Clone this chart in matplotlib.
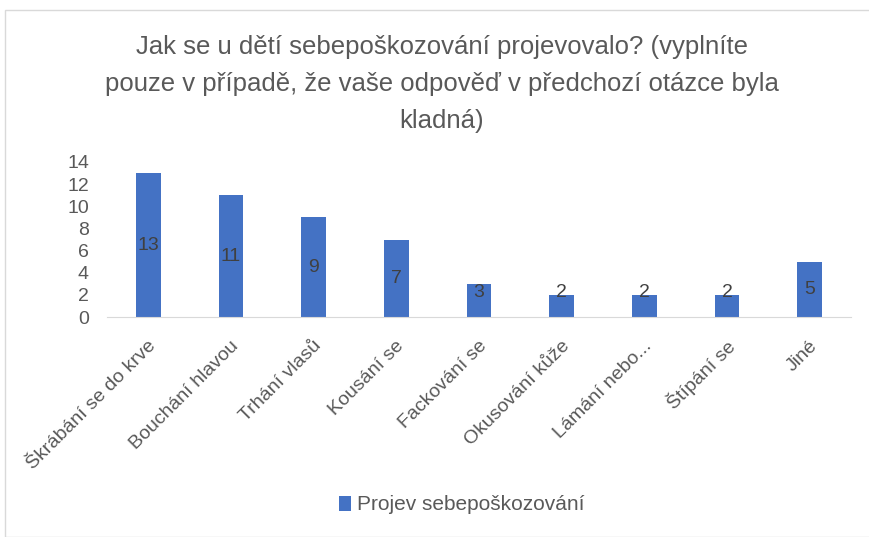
import matplotlib.pyplot as plt
from matplotlib.patches import Rectangle
from matplotlib.transforms import ScaledTranslation

# data z grafu
kategorie = ["Škrábání se do krve", "Bouchání hlavou", "Trhání vlasů", "Kousání se",
             "Fackování se", "Okusování kůže", "Lámání nebo...", "Štípání se", "Jiné"]
hodnoty = [13, 11, 9, 7, 3, 2, 2, 2, 5]
y_ticks = [0, 2, 4, 6, 8, 10, 12, 14]

nazev = ("Jak se u dětí sebepoškozování projevovalo? (vyplníte\n"
         "pouze v případě, že vaše odpověď v předchozí otázce byla\n"
         "kladná)")
legenda = "Projev sebepoškozování"

plt.rcParams['font.family'] = ['Liberation Sans', 'DejaVu Sans']
seda = "#595959"

fig = plt.figure(figsize=(8.7, 5.37), dpi=100)
W, H = 870, 537
# ramecek grafu
fig.patches.append(Rectangle((5 / W, 0), 1, 1 - 10 / H, transform=fig.transFigure,
                             fill=False, edgecolor="#d9d9d9", linewidth=1))

ax = fig.add_axes([107 / W, 1 - 317 / H, (851 - 107) / W, (317 - 162) / H])
x = range(len(kategorie))
ax.bar(x, hodnoty, width=0.3, color="#4472C4", label=legenda)
# popisky hodnot (u nizkych sloupcu posunute nahoru jako v Excelu)
for i, v in zip(x, hodnoty):
    ax.text(i, max(v / 2, 2.2), str(v), ha="center", va="center",
            color="#404040", fontsize=14)

ax.set_xlim(-0.5, len(kategorie) - 0.5)
ax.set_ylim(0, 14)
ax.set_yticks(y_ticks)
ax.set_xticks(list(x))
ax.set_xticklabels(kategorie, rotation=45, ha="right", va="center",
                   rotation_mode="anchor")
ax.tick_params(axis="both", length=0, colors=seda, labelsize=14)
ax.tick_params(axis="y", labelsize=14, pad=13)
ax.tick_params(axis="x", pad=19)
posun = ScaledTranslation(5 / 100, 0, fig.dpi_scale_trans)
for lbl in ax.get_xticklabels():
    lbl.set_transform(lbl.get_transform() + posun)
for s in ["top", "right", "left"]:
    ax.spines[s].set_visible(False)
ax.spines["bottom"].set_color("#d9d9d9")

fig.text(442 / W, 1 - 84 / H, nazev, ha="center", va="center", fontsize=18.5,
         color=seda, linespacing=1.7)

fig.legend(loc="center", bbox_to_anchor=(462 / W, 1 - 505 / H), frameon=False,
           fontsize=15, labelcolor=seda, handlelength=0.55, handleheight=0.7,
           handletextpad=0.3)

fig.savefig("out.png", dpi=100)
